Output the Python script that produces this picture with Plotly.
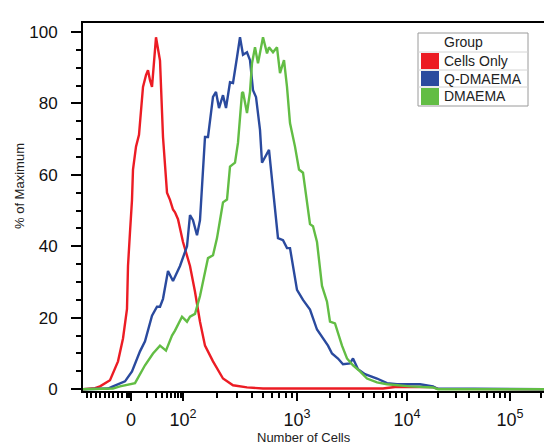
import math
import plotly.graph_objects as go

# histogram data, x in display channels of the biexponential axis, y in % of maximum
cells_only_ch = [0, 12, 17, 27, 35, 40, 44, 45, 47, 49, 50, 53, 56, 60, 63, 65, 67, 69, 73, 77, 80, 84,
                 87, 90, 92, 95, 100, 107, 112, 117, 122, 130, 140, 150, 164, 180, 300, 312, 350, 355, 461]
cells_only_pct = [0, 0.3, 0.8, 2.5, 7.8, 14.2, 22.5, 34.5, 44, 53, 61.5, 67.9, 71.2, 84.6, 87.9, 89.3, 86.5,
                  84.6, 98.5, 92, 70.6, 55, 53, 50.3, 49.5, 47.6, 41.2, 34.5, 27.3, 18.9, 12.2, 7.8, 3, 1.1,
                  0.5, 0.2, 0.2, 0.6, 0.6, 0.1, 0]

q_dmaema_ch = [0, 25, 30, 42, 49, 57, 62, 69, 74, 77, 80, 85, 90, 97, 104, 107, 110, 114, 117, 122, 125,
               130, 133, 136, 140, 143, 147, 150, 154, 157, 160, 164, 167, 170, 173, 177, 179, 182, 186,
               190, 193, 195, 200, 204, 207, 214, 220, 227, 234, 240, 245, 249, 255, 260, 267, 270, 275,
               282, 294, 304, 314, 337, 350, 354, 461]
q_dmaema_pct = [0, 0.2, 0.8, 2.2, 5, 10.6, 13.4, 20.6, 23.1, 23.1, 25.3, 33.1, 30.3, 34.5, 40, 48.7,
                47.3, 43.1, 47.3, 70.6, 70.6, 81.8, 83.2, 78.7, 82.3, 78.7, 85.9, 85.7, 92.9, 98.5, 93.6,
                94.3, 92.1, 83.7, 81.8, 72.6, 63.4, 64.8, 67, 55.9, 47.3, 42.3, 41.7, 39.5, 39.5, 27.8,
                25, 22.3, 16.7, 14.2, 12.2, 10, 8.6, 7, 7.2, 8.6, 5.6, 4.2, 3, 1.7, 1.4, 1.4, 0.8, 0.2, 0]

dmaema_ch = [0, 30, 37, 52, 62, 70, 77, 83, 89, 92, 99, 104, 107, 112, 117, 122, 125, 130, 134, 137,
             140, 144, 147, 152, 155, 159, 160, 164, 167, 169, 172, 175, 180, 184, 186, 190, 194, 197,
             201, 204, 207, 212, 216, 220, 222, 227, 230, 234, 239, 244, 247, 252, 259, 264, 270, 277,
             284, 294, 304, 314, 327, 350, 355, 461]
dmaema_pct = [0, 0.2, 0.8, 1.7, 6.7, 10, 12.2, 10.8, 15, 16.4, 20.3, 18.9, 20.3, 21.1, 26.1, 32.8, 36.7,
              37.5, 42.3, 47.3, 52.3, 53.1, 62.3, 63.4, 69, 82.9, 83.2, 77.3, 83.2, 91.2, 95.7, 91.2,
              98.5, 94, 95.7, 94.3, 95.7, 88.5, 92.1, 84.6, 74.5, 67.9, 61.5, 60.6, 56.7, 46.2, 45.6,
              41.2, 28.9, 24.5, 18.9, 18.4, 12.2, 8.6, 6.7, 5, 3, 1.9, 1.4, 1.1, 0.8, 0.5, 0, 0]

group_names = ["Cells Only", "Q-DMAEMA", "DMAEMA"]
group_colors = ["#ec1c24", "#2a4a9e", "#62bd44"]

# axis: decade positions on the display scale
decade_values = [0, 1e2, 1e3, 1e4, 1e5]
decade_channels = [48, 100, 214, 324, 427]
decade_labels = ["0", "10<sup>2</sup>", "10<sup>3</sup>", "10<sup>4</sup>", "10<sup>5</sup>"]


def to_channel(v):
    # linear below zero, log between decades above
    if v <= 0:
        return decade_channels[0] + v * 0.44
    if v < 100:
        return decade_channels[0] + (decade_channels[1] - decade_channels[0]) * math.log10(v / 10)
    k = min(int(math.floor(math.log10(v))), 4)
    i = k - 1
    c0 = decade_channels[i]
    c1 = decade_channels[i + 1] if i + 1 < len(decade_channels) else c0 + (c0 - decade_channels[i - 1])
    return c0 + (c1 - c0) * math.log10(v / 10 ** k)


minor_vals = [-100, -90, -80, -70, -60, -50, -40, -30, -20, -10, -8, -6, -4, -2]
for k in [1, 2, 3, 4]:
    minor_vals += [m * 10 ** k for m in range(2, 10)]
minor_vals.append(2e5)
minor_ch = [to_channel(v) for v in minor_vals]

W, H = 544, 445
L, R, T, B = 83, 0, 23, 54
PW, PH = W - L - R, H - T - B


def px2x(px):
    return (px - L) / PW


def px2y(py):
    return (H - B - py) / PH


fig = go.Figure()
for xs, ys, name, col in [(cells_only_ch, cells_only_pct, group_names[0], group_colors[0]),
                          (q_dmaema_ch, q_dmaema_pct, group_names[1], group_colors[1]),
                          (dmaema_ch, dmaema_pct, group_names[2], group_colors[2])]:
    fig.add_trace(go.Scatter(x=xs, y=ys, mode="lines", name=name,
                             line=dict(color=col, width=2.4), showlegend=False))

font = "Liberation Sans, Arial, sans-serif"

# legend drawn as a little table
shapes = []
box_l, box_r, sw_r = 418, 528, 439
rows = [33, 52, 70, 87, 106]
shapes.append(dict(type="rect", xref="paper", yref="paper", x0=px2x(box_l), x1=px2x(box_r),
                   y0=px2y(rows[-1]), y1=px2y(rows[0]), line=dict(color="#9a9a9a", width=1),
                   fillcolor="white", layer="above"))
for r in rows[1:-1]:
    shapes.append(dict(type="line", xref="paper", yref="paper", x0=px2x(box_l), x1=px2x(box_r),
                       y0=px2y(r), y1=px2y(r), line=dict(color="#d4d4d4", width=1), layer="above"))
annotations = [dict(text="Group", xref="paper", yref="paper", x=px2x(442), y=px2y((rows[0] + rows[1]) / 2),
                    xanchor="left", yanchor="middle", showarrow=False, font=dict(family=font, size=14, color="#222"))]
for i, (name, col) in enumerate(zip(group_names, group_colors)):
    top, bot = rows[i + 1], rows[i + 2]
    shapes.append(dict(type="rect", xref="paper", yref="paper", x0=px2x(box_l + 3), x1=px2x(sw_r),
                       y0=px2y(bot - 1), y1=px2y(top + 1), line=dict(width=0), fillcolor=col, layer="above"))
    annotations.append(dict(text=name, xref="paper", yref="paper", x=px2x(442), y=px2y((top + bot) / 2),
                            xanchor="left", yanchor="middle", showarrow=False,
                            font=dict(family=font, size=14, color="#222")))

annotations.append(dict(text="% of Maximum", xref="paper", yref="paper", x=px2x(19), y=px2y(186),
                        textangle=-90, showarrow=False, xanchor="center", yanchor="middle",
                        font=dict(family=font, size=13, color="#222")))
annotations.append(dict(text="Number of Cells", xref="paper", yref="paper", x=px2x(304), y=px2y(437),
                        showarrow=False, xanchor="center", yanchor="middle",
                        font=dict(family=font, size=13, color="#222")))

fig.update_layout(
    width=W, height=H, autosize=False,
    margin=dict(l=L, r=R, t=T, b=B, pad=0),
    paper_bgcolor="white", plot_bgcolor="white",
    shapes=shapes, annotations=annotations,
    xaxis=dict(range=[0, PW], showgrid=False, zeroline=False,
               showline=True, linecolor="black", linewidth=2, mirror=True,
               tickmode="array", tickvals=decade_channels, ticktext=decade_labels,
               ticks="outside", ticklen=8, tickwidth=2, tickcolor="black",
               ticklabelstandoff=3,
               tickfont=dict(family=font, size=18, color="#111"),
               minor=dict(tickmode="array", tickvals=minor_ch, ticks="outside",
                          ticklen=5, tickwidth=2, tickcolor="black", showgrid=False)),
    yaxis=dict(range=[-0.5, 102.5], showgrid=False, zeroline=False,
               showline=True, linecolor="black", linewidth=2, mirror=False,
               tickmode="linear", tick0=0, dtick=20,
               ticks="outside", ticklen=10, tickwidth=2, tickcolor="black",
               ticklabelstandoff=10,
               tickfont=dict(family=font, size=17, color="#111"),
               minor=dict(dtick=5, tick0=0, ticks="outside", ticklen=5, tickwidth=2,
                          tickcolor="black", showgrid=False)),
)

# the page body has a default margin; drop it so the figure sits at the window corner
fig.write_html("out.html", config={"displayModeBar": False},
               post_script="document.body.style.margin='0';document.body.style.overflow='hidden';")
